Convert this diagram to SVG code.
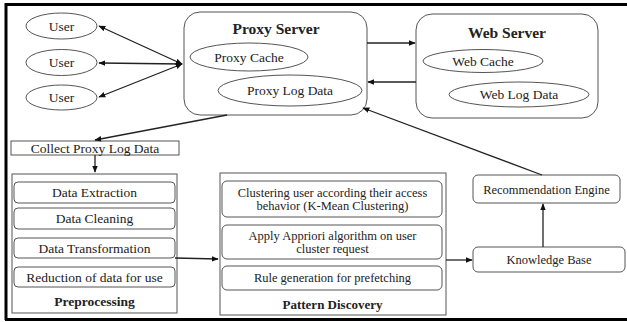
<svg xmlns="http://www.w3.org/2000/svg" width="627" height="322" viewBox="0 0 627 322">
<defs>
<style>
text{font-family:"Liberation Serif","Times New Roman",serif;fill:#222;text-anchor:middle}
.t{font-size:13.5px}
.s{font-size:12.5px}
.b{font-weight:bold}
.n{fill:#fff;stroke:#555;stroke-width:1}
.c{stroke:#222;stroke-width:1.3;fill:none}
.fr{stroke:#000;stroke-width:3;fill:none}
</style>
<marker id="ah" viewBox="0 0 10 10" refX="9" refY="5" markerWidth="7" markerHeight="7" orient="auto-start-reverse" markerUnits="userSpaceOnUse">
<path d="M0,1 L10,5 L0,9 z" fill="#111"/>
</marker>
</defs>
<rect width="627" height="322" fill="#fff"/>
<path class="fr" d="M6,320 V4.5 H627 M5,319.5 H627"/>

<g id="user1"><ellipse class="n" cx="61.5" cy="26" rx="35.5" ry="13"/><text class="t" x="61.5" y="30.5">User</text></g>
<g id="user2"><ellipse class="n" cx="61.5" cy="62.5" rx="35.5" ry="13"/><text class="t" x="61.5" y="67">User</text></g>
<g id="user3"><ellipse class="n" cx="61.5" cy="97.5" rx="35.5" ry="12.5"/><text class="t" x="61.5" y="102">User</text></g>

<g id="proxy-server">
<rect class="n" x="184" y="12" width="183" height="103" rx="16"/>
<text class="b" x="276" y="34" font-size="15.5">Proxy Server</text>
<ellipse class="n" cx="249" cy="57" rx="59" ry="14"/>
<text class="t" x="249" y="61.5">Proxy Cache</text>
<ellipse class="n" cx="290" cy="90.5" rx="72" ry="15.5"/>
<text class="t" x="290" y="95">Proxy Log Data</text>
</g>

<g id="web-server">
<rect class="n" x="416" y="14" width="182" height="104" rx="16"/>
<text class="b" x="507" y="38" font-size="15.5">Web Server</text>
<ellipse class="n" cx="483" cy="61" rx="60" ry="11.5"/>
<text class="t" x="483" y="65.5">Web Cache</text>
<ellipse class="n" cx="519" cy="94.5" rx="70" ry="12.5"/>
<text class="t" x="519" y="99">Web Log Data</text>
</g>

<g id="collect">
<rect class="n" x="11" y="141" width="168" height="14"/>
<text class="t" x="95" y="152.5">Collect Proxy Log Data</text>
</g>

<g id="preprocessing">
<rect class="n" x="12" y="174" width="165" height="139"/>
<rect class="n" x="14" y="182" width="161" height="21" rx="4"/>
<text class="t" x="94.5" y="197">Data Extraction</text>
<rect class="n" x="14" y="208" width="161" height="21" rx="4"/>
<text class="t" x="94.5" y="223">Data Cleaning</text>
<rect class="n" x="14" y="238" width="161" height="20" rx="4"/>
<text class="t" x="94.5" y="252.5">Data Transformation</text>
<rect class="n" x="14" y="267" width="161" height="20" rx="4"/>
<text class="t" x="94.5" y="281.5">Reduction of data for use</text>
<text class="b" x="94.5" y="306" font-size="13.5">Preprocessing</text>
</g>

<g id="pattern-discovery">
<rect class="n" x="220" y="173" width="226" height="142"/>
<rect class="n" x="222" y="181" width="220" height="36" rx="5"/>
<text class="s" x="332.5" y="197">Clustering user according their access</text>
<text class="s" x="332.5" y="210">behavior (K-Mean Clustering)</text>
<rect class="n" x="222" y="225" width="220" height="34" rx="5"/>
<text class="s" x="332.5" y="240">Apply Appriori algorithm on user</text>
<text class="s" x="332.5" y="253">cluster request</text>
<rect class="n" x="222" y="266" width="220" height="24" rx="5"/>
<text class="s" x="332.5" y="282">Rule generation for prefetching</text>
<text class="b" x="332.5" y="309" font-size="13">Pattern Discovery</text>
</g>

<g id="recommendation-engine">
<rect class="n" x="473" y="175" width="147" height="28" rx="5"/>
<text class="s" x="546.5" y="193.5">Recommendation Engine</text>
</g>

<g id="knowledge-base">
<rect class="n" x="473" y="247" width="152" height="25" rx="5"/>
<text class="s" x="549" y="264">Knowledge Base</text>
</g>

<g id="connectors">
<line class="c" x1="99" y1="26" x2="182" y2="64" marker-start="url(#ah)" marker-end="url(#ah)"/>
<line class="c" x1="99" y1="63" x2="182" y2="64" marker-start="url(#ah)" marker-end="url(#ah)"/>
<line class="c" x1="99" y1="97" x2="182" y2="64" marker-start="url(#ah)" marker-end="url(#ah)"/>
<line class="c" x1="367" y1="43" x2="415" y2="43" marker-end="url(#ah)"/>
<line class="c" x1="416" y1="82" x2="368" y2="82" marker-end="url(#ah)"/>
<line class="c" x1="542" y1="175" x2="363" y2="108" marker-end="url(#ah)"/>
<line class="c" x1="227" y1="115" x2="95" y2="140" marker-end="url(#ah)"/>
<line class="c" x1="95" y1="155" x2="95" y2="172" marker-end="url(#ah)"/>
<line class="c" x1="175" y1="258" x2="218" y2="259" marker-end="url(#ah)"/>
<line class="c" x1="446" y1="260" x2="472" y2="260" marker-end="url(#ah)"/>
<line class="c" x1="543" y1="247" x2="543" y2="204" marker-end="url(#ah)"/>
</g>
</svg>
